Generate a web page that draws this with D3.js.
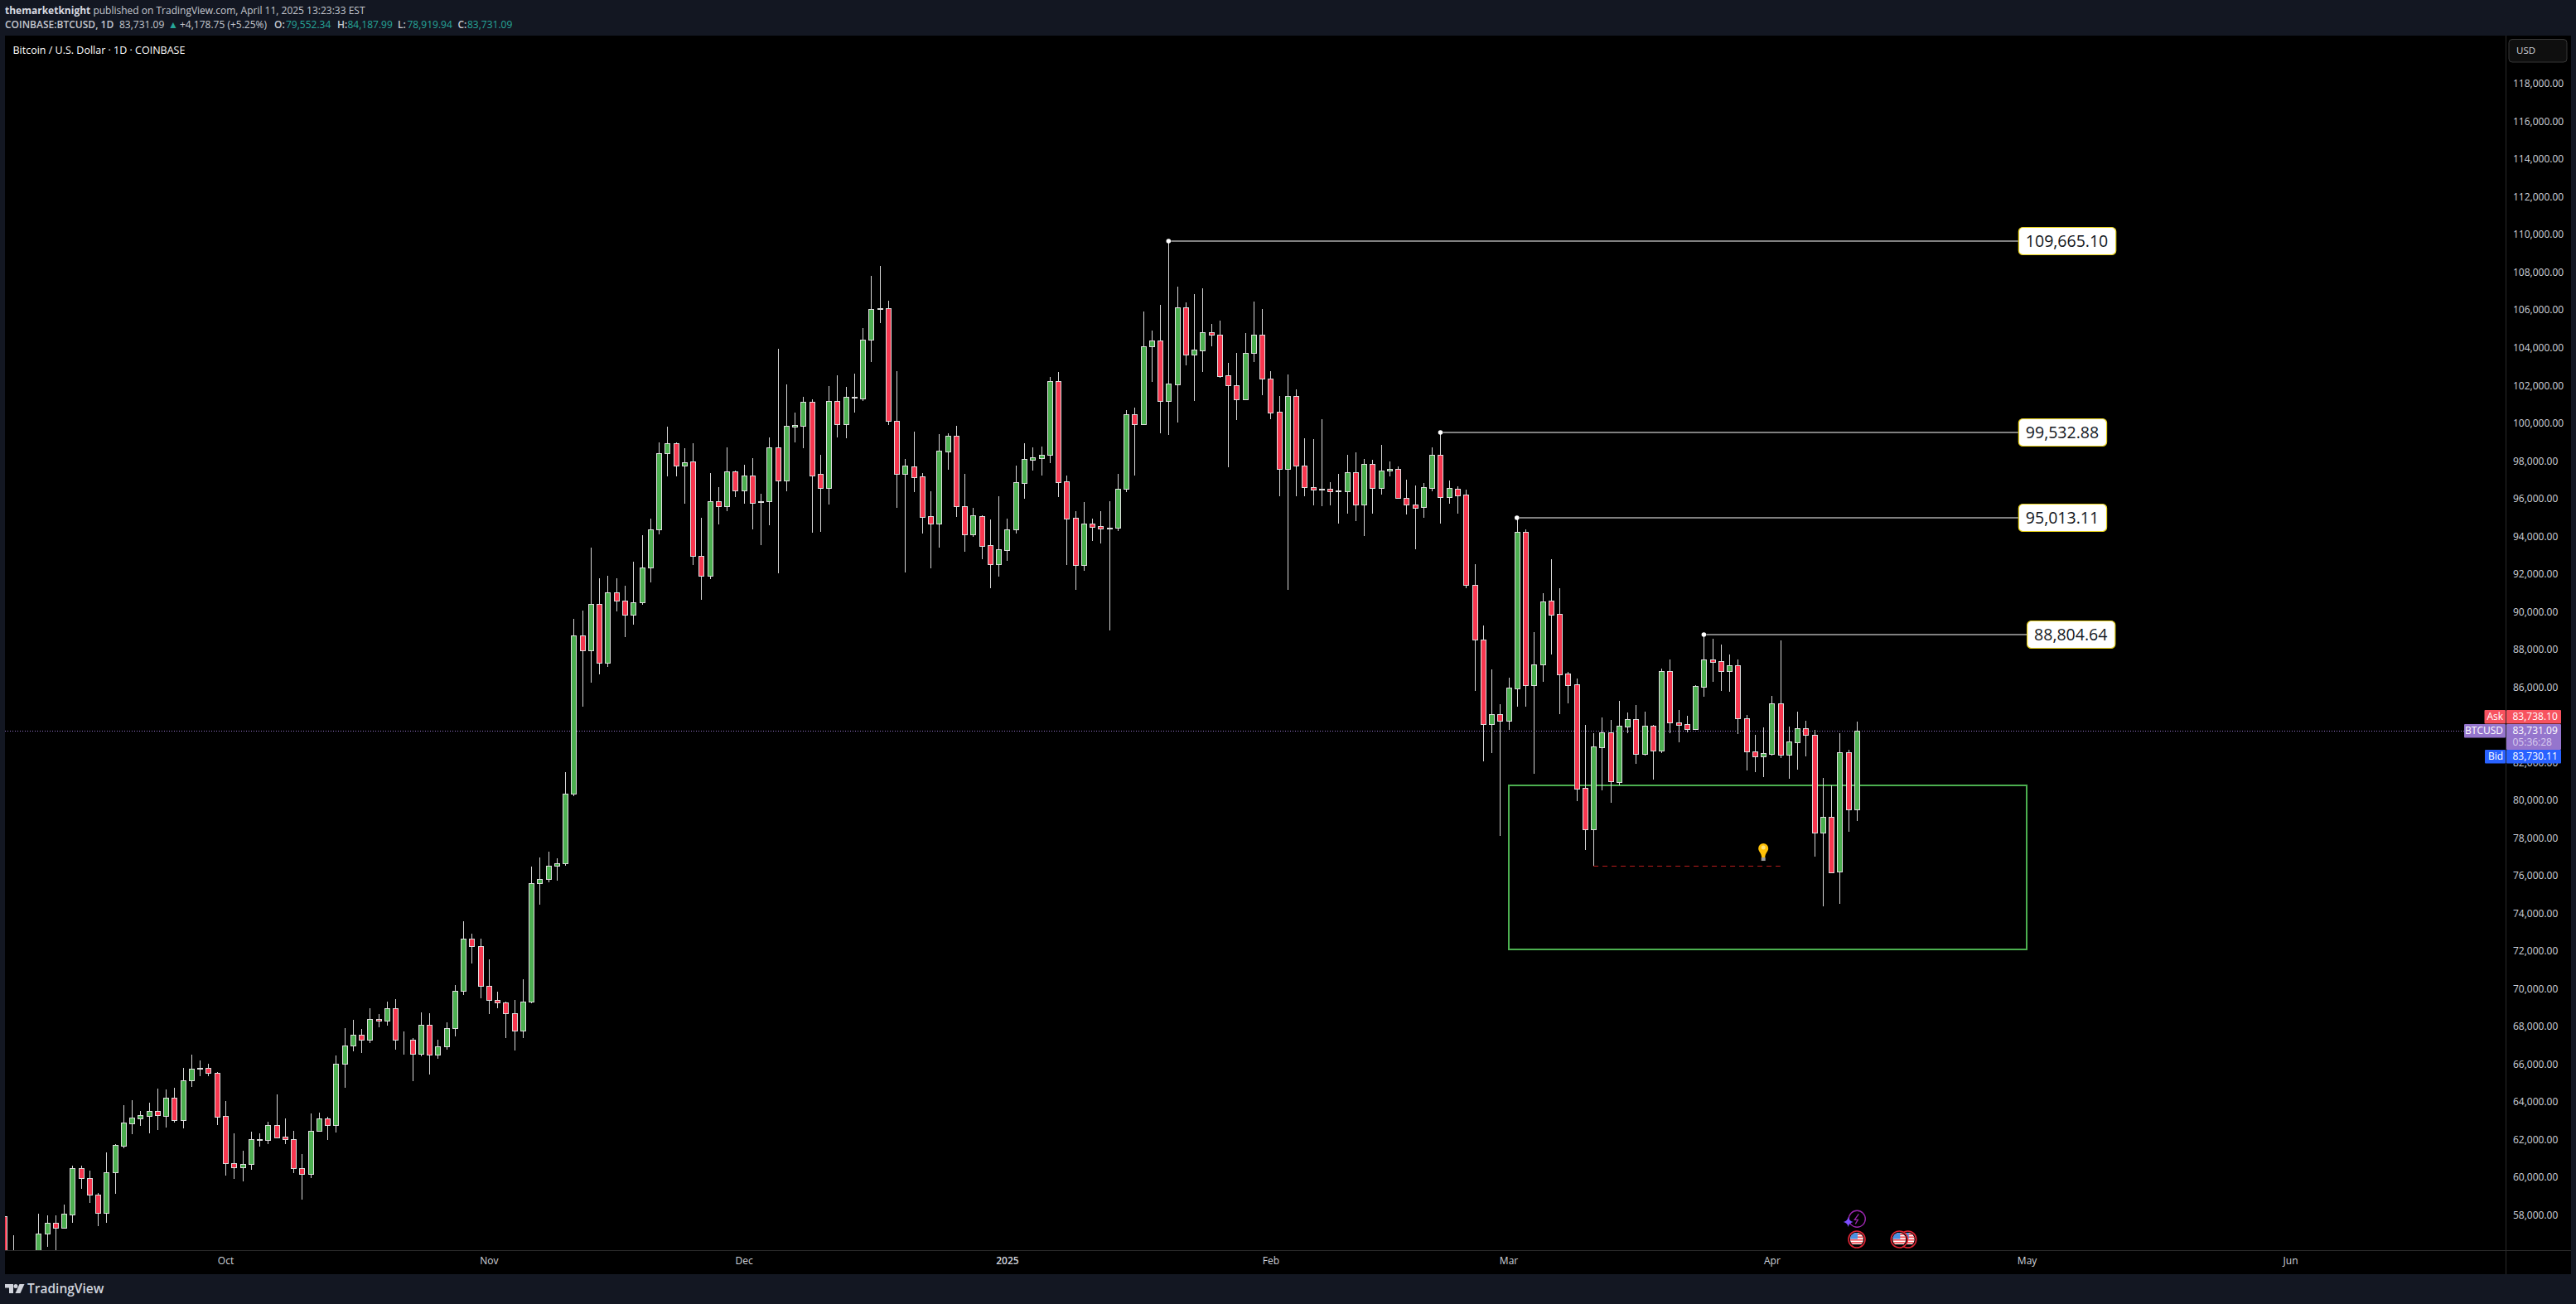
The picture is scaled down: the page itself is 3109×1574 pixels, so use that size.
<!DOCTYPE html>
<html>
<head>
<meta charset="utf-8">
<script src="https://cdn.jsdelivr.net/npm/d3@7"></script>
<style>
  html, body { margin: 0; padding: 0; background: #131722; }
  svg { display: block; }
  text { font-family: "Open Sans", sans-serif; }
</style>
</head>
<body>
<div id="chart"></div>
<script>
// daily candles, first one is 2024-09-05. One line per month
const firstDay = "2024-09-05";

const opens = [
  57960,56150,53950,54150,54880,57031,57600,57339,58071,60503,59975,59097,58159,60283,61718,62905,63168,63300,63534,63300,64238,63081,65160,65776,65820,65556,
  63270,60766,60576,60722,62041,62030,62788,62172,62070,60532,60224,62480,63139,62817,66039,67006,67577,67343,68412,68324,68983,67313,67320,66567,68104,66523,66962,67929,69906,72674,72279,
  70170,69423,69320,68720,67797,69335,75641,75866,76538,76673,80394,88756,87994,90460,87299,91043,90594,89854,90505,92388,94383,98418,98979,97768,98015,92970,91917,95907,95638,97454,
  96445,97230,95840,95907,98731,97002,99844,99902,101147,97324,96607,101191,99990,101411,101353,104443,106098,106113,100137,97354,97720,97193,95084,94717,98540,99346,95640,94146,95084,93546,92564,
  93311,94381,96870,98101,98188,98335,102246,96929,94996,92520,94688,94556,94454,94470,96534,100488,99961,104092,104399,101191,102100,106156,103652,103900,104838,104706,102553,102026,101279,103740,104706,
  102377,100620,97617,101455,97763,96621,96534,96533,96431,96431,97412,95728,97851,96606,97500,97588,96079,95728,95596,96606,98335,96123,96533,96225,91465,88529,84088,84575,
  84261,85971,94242,86113,87211,90601,89895,86740,86160,80667,78501,82848,83617,81012,83947,84324,82503,83963,82676,86866,84135,84057,83822,86066,87478,87400,86897,87180,84355,82597,82346,
  82503,85155,82456,83115,83837,83476,78329,79129,76226,82566,79552.34
];
const highs = [
  57960,56958,54850,55300,58100,57998,57998,58584,60634,60634,60385,59199,61352,61792,63857,64120,63549,63989,64736,64692,64780,65834,66537,66230,66054,65614,
  64077,62363,61440,62451,62363,62978,64428,63154,62495,61264,63417,63461,63242,66493,67943,68383,67899,68998,68690,69349,69481,67768,67401,68778,68734,67328,68236,70228,73612,72953,72689,
  71590,69877,69349,69437,70536,76493,76986,77300,76942,81515,89630,90079,93441,91782,91939,91782,91424,92679,94069,94966,99023,99853,99023,98687,98979,94988,97387,96647,98732,97499,
  97835,98171,96288,99270,103974,102085,100591,101426,101294,98350,101997,102568,101953,102656,105073,107841,108368,106523,102788,98130,99580,97383,96416,99448,99492,99888,97339,95538,95142,94922,96153,
  94966,97779,98965,98745,98789,102480,102744,97251,95362,95845,94966,95362,95889,97339,100723,100854,105952,104941,106288,109665.10,107255,106420,106874,107167,105277,105468,103212,103740,104794,106478,106083,
  102788,101455,102612,101821,99214,99184,100239,96885,97324,98335,98481,98115,98086,98877,97983,97720,97031,96724,96855,98730,99532.88,96987,96680,96489,92547,89298,86976,85124,
  86536,95013.11,94398,88953,91009,92813,91276,86835,86489,84025,83602,84418,84292,85297,84685,85077,84732,84025,86991,87494,84810,84512,86128,88804.64,88592,88294,87761,87494,84543,83476,83900,
  85563,88498,83915,84732,84245,83743,81217,80824,83586,82707,84187.99
];
const lows = [
  55650,52550,53750,53650,54600,56343,55550,57339,57617,59419,58672,57441,57617,59155,61572,62319,62758,62363,62539,62670,62934,62626,64824,65395,65395,62802,
  60122,59946,59814,60429,61660,61792,62099,61792,60254,58848,59990,62465,62011,62407,64780,66713,66625,67152,67987,68075,66801,66537,65131,66449,65483,66317,66815,67504,69701,71371,69525,
  68690,69000,67416,66757,67416,69274,74475,75664,75776,76538,80259,85012,86245,86693,87120,90056,88689,89339,90392,91581,94136,97208,97208,95750,92500,90661,91760,94652,95369,96109,
  95750,94405,93553,94607,92081,96431,99009,98716,94234,94278,95728,99287,99243,100591,101206,103286,105351,99946,95552,92125,96373,94190,92345,93443,97559,95054,93223,94014,92813,91275,91905,
  92740,94190,96021,97515,97251,97910,96109,92520,91202,92213,93795,93663,89049,94322,96387,97251,99961,102217,99507,99404,100078,103095,101220,102744,104106,102451,97705,100210,101279,103286,101513,
  100254,96152,91202,96152,96152,95669,95625,95669,94702,95230,94834,94043,95230,96240,97207,96079,95185,93340,95010,96416,94702,95757,95230,91290,85830,82095,82534,78141,
  83759,84998,84998,81436,86317,87760,84590,85171,79977,77387,76540,80557,79898,80808,83586,81954,82393,81122,82534,83586,83099,83633,83822,85516,86317,85830,85783,83539,81609,81515,81263,
  82393,82283,81169,81656,82362,77042,74421,76179,74531,78360,78919.94
];
const closes = [
  56150,53950,54150,54880,57031,57603,57339,58086,60503,59975,59097,58159,60283,61733,62919,63183,63315,63534,63315,64238,63081,65160,65776,65820,65556,63256,
  60766,60576,60722,62041,62030,62788,62143,62070,60532,60224,62480,63139,62817,66039,67006,67577,67343,68412,68324,68983,67313,67320,66567,68104,66523,66962,67929,69906,72674,72279,70170,
  69423,69320,68720,67797,69335,75641,75866,76538,76673,80394,88756,87994,90460,87299,91043,90594,89854,90505,92388,94383,98418,98979,97768,97970,92970,91917,95907,95638,97454,96445,
  97230,95818,95907,98732,97002,99873,99917,101147,97266,96607,101191,99990,101411,101397,104443,106069,106113,100137,97354,97764,97178,95069,94717,98555,99346,95640,94146,95127,93531,92564,93326,
  94381,96885,98116,98203,98335,102246,96914,94981,92520,94688,94542,94454,94470,96534,100488,99961,104092,104399,101191,102114,106156,103652,103915,104838,104706,102538,102026,101279,103740,104706,102377,
  100605,97617,101455,97763,96621,96519,96519,96431,96445,97412,95728,97851,96606,97500,97588,96079,95728,95552,96621,98335,96123,96577,96211,91465,88561,84088,84575,84261,
  85987,94242,86113,87211,90554,89879,86725,86144,80652,78501,82864,83617,81044,83963,84324,82503,83963,82676,86866,84135,84041,83822,86081,87478,87384,86897,87180,84355,82597,82346,82519,
  85155,82456,83131,83837,83476,78329,79129,76210,82566,79521,83731.09
];

// axis labels, 84,000 stays hidden behind the price tags
const priceTicks = d3.range(58000, 118001, 2000).filter(d => d !== 84000);
const timeTicks = ["2024-10-01", "2024-11-01", "2024-12-01", "2025-01-01", "2025-02-01", "2025-03-01", "2025-04-01", "2025-05-01", "2025-06-01"];
const timeLabels = ["Oct", "Nov", "Dec", "2025", "Feb", "Mar", "Apr", "May", "Jun"];

// drawings on the chart
const peakDates = ["2025-01-20", "2025-02-21", "2025-03-02", "2025-03-24"];
const peakPrices = [109665.10, 99532.88, 95013.11, 88804.64];
const peakEnds = ["2025-04-30", "2025-04-30", "2025-04-30", "2025-05-01"];
const zoneDates = ["2025-03-01", "2025-05-01"];
const zonePrices = [80818, 72127];
const dashDates = ["2025-03-11", "2025-04-02"];
const dashPrice = 76540;
const bulbDate = "2025-03-31";
const bulbPrice = 77300;
const lastPrice = 83731.09;

const parse = d3.utcParse("%Y-%m-%d");
const candles = opens.map((o, i) => ({
    date: d3.utcDay.offset(parse(firstDay), i),
    open: o, high: highs[i], low: lows[i], close: closes[i]
}));

const W = 3109, H = 1574;
const pane = {left: 6, top: 43, right: 3024, bottom: 1509, end: 3103, floor: 1538};

const svg = d3.select("#chart").append("svg").attr("width", W).attr("height", H);

svg.append("rect").attr("width", W).attr("height", H).attr("fill", "#131722");
svg.append("rect")
    .attr("x", pane.left).attr("y", pane.top)
    .attr("width", pane.end - pane.left).attr("height", pane.floor - pane.top)
    .attr("fill", "#000");

svg.append("clipPath").attr("id", "pane").append("rect")
    .attr("x", pane.left).attr("y", pane.top)
    .attr("width", pane.right - pane.left).attr("height", pane.bottom - pane.top);

// scales
const x = d3.scaleUtc()
    .domain([parse("2024-10-01"), parse("2025-04-11")])
    .range([272, 2241]);
const y = d3.scaleLinear()
    .domain([118000, 58000])
    .range([101.7, 1467.3]);

// price axis
const yAxis = svg.append("g")
    .attr("transform", `translate(${pane.right},0)`)
    .call(d3.axisRight(y).tickValues(priceTicks).tickSize(0).tickPadding(9).tickFormat(d3.format(",.2f")));
yAxis.select(".domain").remove();
yAxis.selectAll("text")
    .attr("dy", "0.32em")
    .attr("y", -0.7)
    .attr("fill", "#d1d4dc")
    .attr("font-size", 12);

// time axis
const xAxis = svg.append("g")
    .attr("transform", `translate(0,${pane.bottom})`)
    .call(d3.axisBottom(x).tickValues(timeTicks.map(parse)).tickSize(0).tickPadding(0)
        .tickFormat((d, i) => timeLabels[i]));
xAxis.select(".domain").remove();
xAxis.selectAll("text")
    .attr("y", 13)
    .attr("dy", "0.32em")
    .attr("fill", "#d1d4dc")
    .attr("font-size", 12)
    .attr("font-weight", (d, i) => timeLabels[i] === "2025" ? 600 : 400);

// pane borders
svg.append("line").attr("x1", pane.left).attr("x2", pane.end).attr("y1", pane.bottom + 0.5).attr("y2", pane.bottom + 0.5)
    .attr("stroke", "#2a2a2a");
svg.append("line").attr("x1", pane.right + 0.5).attr("x2", pane.right + 0.5).attr("y1", pane.top).attr("y2", pane.floor)
    .attr("stroke", "#2a2a2a");

const plot = svg.append("g").attr("clip-path", "url(#pane)");

// green zone sits behind the candles
const zoneGreen = "#4caf50";
const zx0 = Math.round(x(parse(zoneDates[0]))), zx1 = Math.round(x(parse(zoneDates[1])));
const zy0 = Math.round(y(zonePrices[0])), zy1 = Math.round(y(zonePrices[1]));
plot.append("rect")
    .attr("x", zx0)
    .attr("y", zy0)
    .attr("width", zx1 - zx0)
    .attr("height", zy1 - zy0)
    .attr("fill", "none")
    .attr("stroke", zoneGreen)
    .attr("stroke-width", 2);

// last price line
plot.append("line")
    .attr("x1", pane.left).attr("x2", 2974)
    .attr("y1", Math.round(y(lastPrice)) + 0.5).attr("y2", Math.round(y(lastPrice)) + 0.5)
    .attr("stroke", "#9575cd")
    .attr("stroke-dasharray", "1 2");

// wicks
plot.selectAll(".wick")
    .data(candles)
    .join("line")
    .attr("class", "wick")
    .attr("x1", d => Math.round(x(d.date)) + 0.5)
    .attr("x2", d => Math.round(x(d.date)) + 0.5)
    .attr("y1", d => Math.round(y(d.high)))
    .attr("y2", d => Math.round(y(d.low)))
    .attr("stroke", "#d6d6d6")
    .attr("stroke-width", 1);

// bodies
plot.selectAll(".body")
    .data(candles)
    .join("rect")
    .attr("class", "body")
    .attr("x", d => Math.round(x(d.date)) - 2.5)
    .attr("width", 6)
    .attr("y", d => Math.round(y(Math.max(d.open, d.close))) + 0.5)
    .attr("height", d => Math.round(y(Math.min(d.open, d.close))) - Math.round(y(Math.max(d.open, d.close))))
    .attr("fill", d => d.close >= d.open ? "#4caf50" : "#f7374f")
    .attr("stroke", "#dedede")
    .attr("stroke-width", 1);

// dashed line under the march low and the bulb
plot.append("line")
    .attr("x1", x(parse(dashDates[0]))).attr("x2", x(parse(dashDates[1])))
    .attr("y1", Math.round(y(dashPrice)) + 0.5).attr("y2", Math.round(y(dashPrice)) + 0.5)
    .attr("stroke", "#b71c1c")
    .attr("stroke-dasharray", "6 5");

const bulb = plot.append("g")
    .attr("transform", `translate(${x(parse(bulbDate))},${y(bulbPrice)})`);
bulb.append("path")
    .attr("d", "M-6,-4 A6,6 0 1 1 6,-4 C6,0 2.5,1 2,7 L-2,7 C-2.5,1 -6,0 -6,-4 Z")
    .attr("fill", "#ffc107");
bulb.append("circle").attr("cx", 0).attr("cy", -5).attr("r", 2.5).attr("fill", "#ffe27a");
bulb.append("rect").attr("x", -2.5).attr("y", 7).attr("width", 5).attr("height", 4).attr("fill", "#9e9e9e");

// peak markers
peakPrices.forEach((p, i) => {
    const x0 = x(parse(peakDates[i])), x1 = x(parse(peakEnds[i])), py = Math.round(y(p));
    plot.append("line")
        .attr("x1", x0 + 3).attr("x2", x1)
        .attr("y1", py).attr("y2", py)
        .attr("stroke", "#808080")
        .attr("stroke-width", 2);
    plot.append("circle")
        .attr("cx", x0).attr("cy", py).attr("r", 2.8)
        .attr("fill", "#fff");

    const label = plot.append("g");
    const txt = label.append("text")
        .attr("x", x1 + 9)
        .attr("y", py)
        .attr("dy", "0.36em")
        .attr("fill", "#131722")
        .attr("font-size", 19.5)
        .text(d3.format(",.2f")(p));
    const w = txt.node().getComputedTextLength();
    label.insert("rect", "text")
        .attr("x", x1 + 0.5)
        .attr("y", py - 16.5)
        .attr("width", w + 18)
        .attr("height", 33)
        .attr("rx", 5)
        .attr("fill", "#fff")
        .attr("stroke", "#e8d21a")
        .attr("stroke-width", 1.2);
});

// price tags on the right
const tags = [
    {name: "Ask", price: "83,738.10", color: "#f7525f", y0: 857, y1: 873.5, nameX: 2998.5},
    {name: "BTCUSD", price: "83,731.09", extra: "05:36:28", color: "#9575cd", y0: 874, y1: 905, nameX: 2974, nameY1: 890.5},
    {name: "Bid", price: "83,730.11", color: "#2962ff", y0: 905, y1: 921.5, nameX: 2999}
];
tags.forEach(t => {
    const nameY1 = t.nameY1 || t.y1;
    svg.append("rect").attr("x", t.nameX).attr("y", t.y0).attr("width", pane.right - t.nameX).attr("height", nameY1 - t.y0)
        .attr("rx", 1).attr("fill", t.color);
    svg.append("rect").attr("x", pane.right + 1).attr("y", t.y0).attr("width", 66).attr("height", t.y1 - t.y0)
        .attr("rx", 1).attr("fill", t.color);
    svg.append("text").attr("x", pane.right - 3).attr("y", (t.y0 + nameY1) / 2).attr("dy", "0.34em")
        .attr("text-anchor", "end").attr("fill", "#fff").attr("font-size", 12).text(t.name);
    svg.append("text").attr("x", pane.right + 8.5).attr("y", t.y0 + 8).attr("dy", "0.34em")
        .attr("fill", "#fff").attr("font-size", 12).text(t.price);
    if (t.extra) {
        svg.append("text").attr("x", pane.right + 8.5).attr("y", t.y0 + 22).attr("dy", "0.34em")
            .attr("fill", "#d9cdef").attr("font-size", 12).text(t.extra);
    }
});

// USD box
svg.append("rect")
    .attr("x", 3028).attr("y", 47.5).attr("width", 70).attr("height", 27.5).attr("rx", 4)
    .attr("fill", "#0f0f0f").attr("stroke", "#363636");
svg.append("text").attr("x", 3037).attr("y", 61.5).attr("dy", "0.34em")
    .attr("fill", "#d1d4dc").attr("font-size", 11.5).text("USD");

// event icons at the bottom
const flagClip = svg.append("clipPath").attr("id", "flagClip");
flagClip.append("circle").attr("r", 8);
function flag(cx, cy) {
    const g = svg.append("g").attr("transform", `translate(${cx},${cy})`);
    g.append("circle").attr("r", 10).attr("fill", "#000").attr("stroke", "#e02535").attr("stroke-width", 1.6);
    const f = g.append("g").attr("clip-path", "url(#flagClip)");
    f.append("rect").attr("x", -8).attr("y", -8).attr("width", 16).attr("height", 14).attr("fill", "#fff");
    d3.range(4).forEach(k => {
        f.append("rect").attr("x", -8).attr("y", -7 + k * 3.4).attr("width", 16).attr("height", 1.8).attr("fill", "#f2545b");
    });
    f.append("rect").attr("x", -8).attr("y", -8).attr("width", 9).attr("height", 7.5).attr("fill", "#4a90e2");
}
flag(2302.7, 1496);
flag(2292.3, 1496);
flag(2241, 1496);

const bolt = svg.append("g").attr("transform", "translate(2241.3,1471.3)");
bolt.append("circle").attr("r", 10).attr("fill", "#000").attr("stroke", "#9c27b0").attr("stroke-width", 1.4);
bolt.append("path").attr("d", "M2,-6 L-3,1 L1,1 L-2,6").attr("fill", "none").attr("stroke", "#9c27b0").attr("stroke-width", 1.3);
svg.append("path")
    .attr("transform", "translate(2230.7,1475)")
    .attr("d", "M0,-6 Q1,-1 6,0 Q1,1 0,6 Q-1,1 -6,0 Q-1,-1 0,-6 Z")
    .attr("fill", "#7c4dff");

// chart title
svg.append("text").attr("x", 15.5).attr("y", 60.5).attr("dy", "0.34em")
    .attr("fill", "#fff").attr("font-size", 12.5).attr("font-weight", 500).text("Bitcoin / U.S. Dollar · 1D · COINBASE");

// header lines
const grey = "#c4c7cf", teal = "#26a69a";
const line1 = svg.append("text").attr("x", 6).attr("y", 12.7).attr("dy", "0.34em").attr("font-size", 12).attr("fill", grey);
line1.append("tspan").attr("font-weight", 700).attr("fill", "#d8dae0").text("themarketknight");
line1.append("tspan").text(" published on TradingView.com, April 11, 2025 13:23:33 EST");

const headerParts = [
    {t: "COINBASE:BTCUSD, 1D", x: 6, c: grey, w: 600},
    {t: "83,731.09", x: 144, c: grey},
    {t: "▲", x: 203, c: teal},
    {t: "+4,178.75 (+5.25%)", x: 217, c: grey},
    {t: "O:", x: 331, c: grey, w: 600},
    {t: "79,552.34", x: 345, c: teal},
    {t: "H:", x: 407, c: grey, w: 600},
    {t: "84,187.99", x: 419.5, c: teal},
    {t: "L:", x: 480, c: grey, w: 600},
    {t: "78,919.94", x: 491.5, c: teal},
    {t: "C:", x: 552.5, c: grey, w: 600},
    {t: "83,731.09", x: 564, c: teal}
];
svg.append("g").selectAll("text")
    .data(headerParts)
    .join("text")
    .attr("x", d => d.x)
    .attr("y", 30)
    .attr("dy", "0.34em")
    .attr("font-size", 12)
    .attr("font-weight", d => d.w || 400)
    .attr("fill", d => d.c)
    .text(d => d.t);

// footer logo
const logo = svg.append("g").attr("transform", "translate(6,1550)").attr("fill", "#d1d4dc");
logo.append("path").attr("d", "M0,0 H10 V11 H5 V4.5 H0 Z");
logo.append("circle").attr("cx", 13).attr("cy", 2.5).attr("r", 2.5);
logo.append("path").attr("d", "M17.5,0 H23.5 L18.5,11 H12.5 Z");
svg.append("text").attr("x", 33).attr("y", 1555.5).attr("dy", "0.34em")
    .attr("fill", "#d1d4dc").attr("font-size", 15.5).attr("font-weight", 600).text("TradingView");
</script>
</body>
</html>
